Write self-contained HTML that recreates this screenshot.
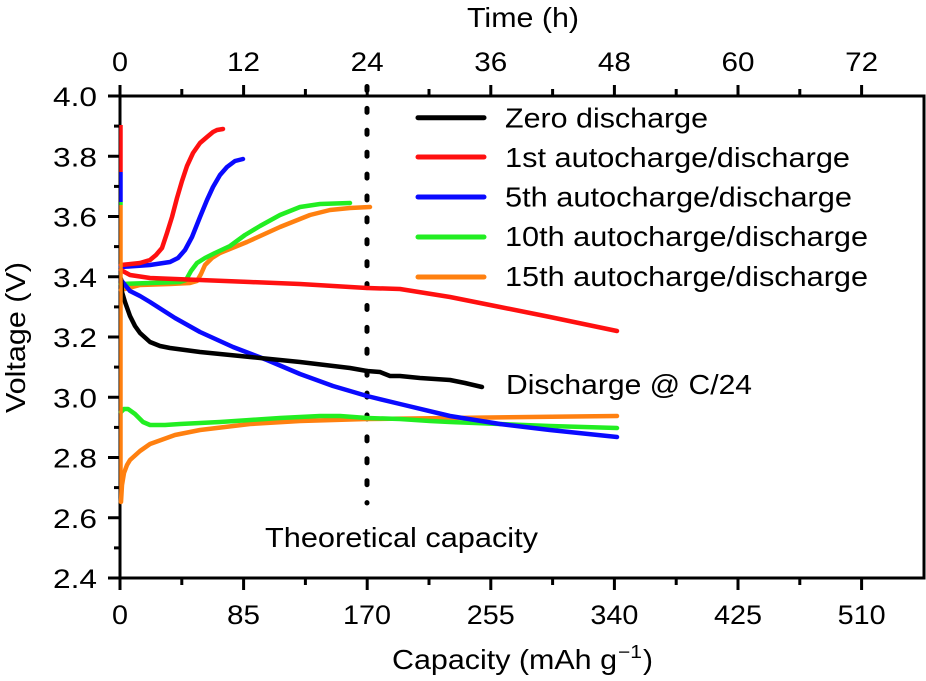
<!DOCTYPE html>
<html>
<head>
<meta charset="utf-8">
<style>
  html, body { margin: 0; padding: 0; background: #ffffff; }
  svg { display: block; }
  text { font-family: "Liberation Sans", Arial, sans-serif; fill: #000; }
</style>
</head>
<body>
<svg width="926" height="681" viewBox="0 0 926 681" xmlns="http://www.w3.org/2000/svg">
  <rect x="0" y="0" width="926" height="681" fill="#ffffff"/>

  <!-- axes frame -->
  <g stroke="#000" stroke-width="3" fill="none" stroke-linecap="square">
    <line x1="120" y1="96" x2="924" y2="96"/>
    <line x1="120" y1="578" x2="924" y2="578"/>
    <line x1="120" y1="96" x2="120" y2="578"/>
    <line x1="924" y1="96" x2="924" y2="578"/>
  </g>

  <!-- ticks -->
  <g stroke="#000" stroke-width="3">
    <!-- left major -->
    <line x1="108" y1="96" x2="120" y2="96"/>
    <line x1="108" y1="156.25" x2="120" y2="156.25"/>
    <line x1="108" y1="216.5" x2="120" y2="216.5"/>
    <line x1="108" y1="276.75" x2="120" y2="276.75"/>
    <line x1="108" y1="337" x2="120" y2="337"/>
    <line x1="108" y1="397.25" x2="120" y2="397.25"/>
    <line x1="108" y1="457.5" x2="120" y2="457.5"/>
    <line x1="108" y1="517.75" x2="120" y2="517.75"/>
    <line x1="108" y1="578" x2="120" y2="578"/>
    <!-- left minor -->
    <line x1="114" y1="126.1" x2="120" y2="126.1"/>
    <line x1="114" y1="186.4" x2="120" y2="186.4"/>
    <line x1="114" y1="246.6" x2="120" y2="246.6"/>
    <line x1="114" y1="306.9" x2="120" y2="306.9"/>
    <line x1="114" y1="367.1" x2="120" y2="367.1"/>
    <line x1="114" y1="427.4" x2="120" y2="427.4"/>
    <line x1="114" y1="487.6" x2="120" y2="487.6"/>
    <line x1="114" y1="547.9" x2="120" y2="547.9"/>
    <!-- bottom major -->
    <line x1="120" y1="578" x2="120" y2="590"/>
    <line x1="243.6" y1="578" x2="243.6" y2="590"/>
    <line x1="367.2" y1="578" x2="367.2" y2="590"/>
    <line x1="490.8" y1="578" x2="490.8" y2="590"/>
    <line x1="614.4" y1="578" x2="614.4" y2="590"/>
    <line x1="738" y1="578" x2="738" y2="590"/>
    <line x1="861.6" y1="578" x2="861.6" y2="590"/>
    <!-- bottom minor -->
    <line x1="181.8" y1="578" x2="181.8" y2="585"/>
    <line x1="305.4" y1="578" x2="305.4" y2="585"/>
    <line x1="429" y1="578" x2="429" y2="585"/>
    <line x1="552.6" y1="578" x2="552.6" y2="585"/>
    <line x1="676.2" y1="578" x2="676.2" y2="585"/>
    <line x1="799.8" y1="578" x2="799.8" y2="585"/>
    <!-- top major -->
    <line x1="120" y1="85" x2="120" y2="96"/>
    <line x1="243.6" y1="85" x2="243.6" y2="96"/>
    <line x1="367.2" y1="85" x2="367.2" y2="96"/>
    <line x1="490.8" y1="85" x2="490.8" y2="96"/>
    <line x1="614.4" y1="85" x2="614.4" y2="96"/>
    <line x1="738" y1="85" x2="738" y2="96"/>
    <line x1="861.6" y1="85" x2="861.6" y2="96"/>
    <!-- top minor -->
    <line x1="181.8" y1="89" x2="181.8" y2="96"/>
    <line x1="305.4" y1="89" x2="305.4" y2="96"/>
    <line x1="429" y1="89" x2="429" y2="96"/>
    <line x1="552.6" y1="89" x2="552.6" y2="96"/>
    <line x1="676.2" y1="89" x2="676.2" y2="96"/>
    <line x1="799.8" y1="89" x2="799.8" y2="96"/>
  </g>

  <!-- y tick labels -->
  <g font-size="27" text-anchor="end">
    <text x="97" y="106" textLength="44" lengthAdjust="spacingAndGlyphs">4.0</text>
    <text x="97" y="166.25" textLength="44" lengthAdjust="spacingAndGlyphs">3.8</text>
    <text x="97" y="226.5" textLength="44" lengthAdjust="spacingAndGlyphs">3.6</text>
    <text x="97" y="286.75" textLength="44" lengthAdjust="spacingAndGlyphs">3.4</text>
    <text x="97" y="347" textLength="44" lengthAdjust="spacingAndGlyphs">3.2</text>
    <text x="97" y="407.25" textLength="44" lengthAdjust="spacingAndGlyphs">3.0</text>
    <text x="97" y="467.5" textLength="44" lengthAdjust="spacingAndGlyphs">2.8</text>
    <text x="97" y="527.75" textLength="44" lengthAdjust="spacingAndGlyphs">2.6</text>
    <text x="97" y="588" textLength="44" lengthAdjust="spacingAndGlyphs">2.4</text>
  </g>

  <!-- bottom tick labels -->
  <g font-size="27">
    <text x="112" y="624" textLength="16" lengthAdjust="spacingAndGlyphs">0</text>
    <text x="227" y="624" textLength="33" lengthAdjust="spacingAndGlyphs">85</text>
    <text x="343" y="624" textLength="48" lengthAdjust="spacingAndGlyphs">170</text>
    <text x="466.8" y="624" textLength="48" lengthAdjust="spacingAndGlyphs">255</text>
    <text x="590.4" y="624" textLength="48" lengthAdjust="spacingAndGlyphs">340</text>
    <text x="714" y="624" textLength="48" lengthAdjust="spacingAndGlyphs">425</text>
    <text x="837.6" y="624" textLength="48" lengthAdjust="spacingAndGlyphs">510</text>
  </g>

  <!-- top tick labels -->
  <g font-size="27">
    <text x="112" y="71" textLength="16" lengthAdjust="spacingAndGlyphs">0</text>
    <text x="227" y="71" textLength="33" lengthAdjust="spacingAndGlyphs">12</text>
    <text x="350.7" y="71" textLength="33" lengthAdjust="spacingAndGlyphs">24</text>
    <text x="474.3" y="71" textLength="33" lengthAdjust="spacingAndGlyphs">36</text>
    <text x="597.9" y="71" textLength="33" lengthAdjust="spacingAndGlyphs">48</text>
    <text x="721.5" y="71" textLength="33" lengthAdjust="spacingAndGlyphs">60</text>
    <text x="845.1" y="71" textLength="33" lengthAdjust="spacingAndGlyphs">72</text>
  </g>

  <!-- axis titles -->
  <text x="467" y="27" font-size="28" textLength="112" lengthAdjust="spacingAndGlyphs">Time (h)</text>
  <text x="392" y="669" font-size="28" textLength="225" lengthAdjust="spacingAndGlyphs">Capacity (mAh g</text>
  <text x="618" y="658" font-size="18" textLength="24" lengthAdjust="spacingAndGlyphs">−1</text>
  <text x="643" y="669" font-size="28" textLength="10" lengthAdjust="spacingAndGlyphs">)</text>
  <text transform="translate(25,413) rotate(-90)" x="0" y="0" font-size="28" textLength="151" lengthAdjust="spacingAndGlyphs">Voltage (V)</text>

  <!-- theoretical capacity dotted line -->
  <line x1="367" y1="86.5" x2="367" y2="503" stroke="#000" stroke-width="5" stroke-linecap="round" stroke-dasharray="4 17.9"/>

  <!-- data curves -->
  <g fill="none" stroke-width="4.5" stroke-linejoin="round" stroke-linecap="round">
    <!-- orange 15th -->
    <polyline stroke="#ff8010" points="121,502 122,485 124,473 127,465 130,460 140,451 150,444 175,435 200,430 250,424 300,421 367,419 450,418 617,416"/>
    <polyline stroke="#ff8010" points="121,290 140,285 170,284 190,283 197,281 201,274 205,265 212,258 220,253 247,242 280,227 310,215 330,210 350,208 370,207"/>
    <!-- green 10th -->
    <polyline stroke="#22ee22" points="121,412 124,409 128,409 135,414 143,422 150,425 165,425 180,424 220,422 250,420 280,418 300,417 320,416 340,416 367,418 400,419 430,421 450,422 500,424 550,426 617,428"/>
    <polyline stroke="#22ee22" points="121,284 150,283 180,282 186,280 191,271 197,263 205,258 215,253 230,246 245,235 260,226 280,215 300,207 320,204 350,203"/>
    <!-- blue 5th -->
    <polyline stroke="#0a0aff" points="121,280 125,285 130,291 140,296 150,302 175,318 200,332 233,347 267,360 300,374 333,386 350,391 367,396 400,404 450,416 500,424 550,430 617,437"/>
    <polyline stroke="#0a0aff" points="121,267 150,265 170,262 178,258 185,250 192,237 200,217 207,200 213,187 220,175 227,167 235,161 243,159"/>
    <!-- red 1st -->
    <polyline stroke="#ff1010" points="121,270 130,275 150,278 200,280 250,282 300,284 350,287 367,288 400,289 450,297 500,307 550,317 617,331"/>
    <polyline stroke="#ff1010" points="121,265 140,263 150,260 156,255 162,248 167,233 172,217 177,198 182,181 187,166 193,153 200,143 207,137 213,132 217,130 223,129"/>
    <!-- black zero -->
    <polyline stroke="#000" points="121,279 122,292 125,302 130,316 135,326 140,333 150,342 160,346 170,348 200,352 250,357 300,362 350,368 367,371 380,372 390,376 400,376 420,378 450,380 465,383 482,387"/>
  </g>

  <!-- vertical colored segments on the left axis -->
  <g stroke-width="3.5" fill="none">
    <line x1="121" y1="125" x2="121" y2="172" stroke="#ff1010"/>
    <line x1="121" y1="172" x2="121" y2="202" stroke="#0a0aff"/>
    <line x1="121" y1="202" x2="121" y2="205" stroke="#22ee22"/>
    <line x1="121" y1="205" x2="121" y2="502" stroke="#ff8010"/>
  </g>

  <!-- legend -->
  <g stroke-width="5" stroke-linecap="round">
    <line x1="418" y1="117.7" x2="484" y2="117.7" stroke="#000"/>
    <line x1="418" y1="157" x2="484" y2="157" stroke="#ff1010"/>
    <line x1="418" y1="197" x2="484" y2="197" stroke="#0a0aff"/>
    <line x1="418" y1="237" x2="484" y2="237" stroke="#22ee22"/>
    <line x1="418" y1="277" x2="484" y2="277" stroke="#ff8010"/>
  </g>
  <g font-size="28">
    <text x="505" y="127.5" textLength="203" lengthAdjust="spacingAndGlyphs">Zero discharge</text>
    <text x="505" y="167" textLength="345" lengthAdjust="spacingAndGlyphs">1st autocharge/discharge</text>
    <text x="505" y="206.5" textLength="347" lengthAdjust="spacingAndGlyphs">5th autocharge/discharge</text>
    <text x="505" y="246" textLength="363" lengthAdjust="spacingAndGlyphs">10th autocharge/discharge</text>
    <text x="505" y="286" textLength="363" lengthAdjust="spacingAndGlyphs">15th autocharge/discharge</text>
  </g>

  <!-- annotations -->
  <text x="506" y="394" font-size="28" textLength="246" lengthAdjust="spacingAndGlyphs">Discharge @ C/24</text>
  <text x="265" y="547" font-size="28" textLength="273" lengthAdjust="spacingAndGlyphs">Theoretical capacity</text>
</svg>
</body>
</html>
